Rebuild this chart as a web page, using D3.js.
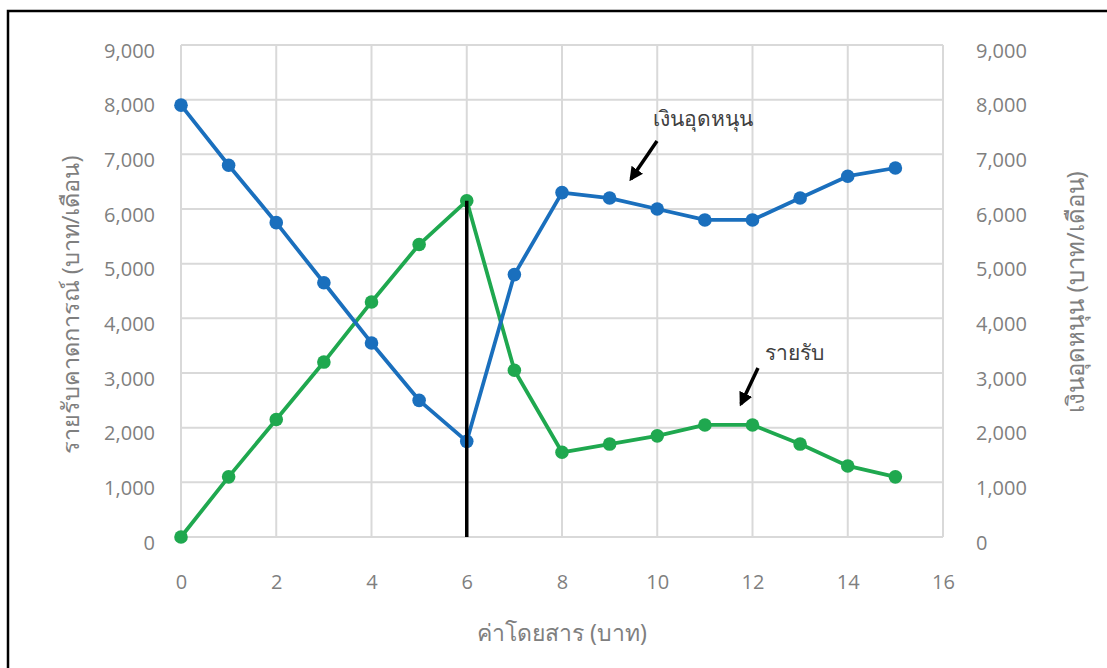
<!DOCTYPE html>
<html><head><meta charset="utf-8">
<script src="https://cdn.jsdelivr.net/npm/d3@7"></script>
<style>body{margin:0;background:#fff;}svg{display:block;font-family:"Noto Sans","Open Sans",sans-serif;}</style>
</head><body>
<svg id="c" width="1107" height="668"></svg>
<script>
const fares = [0,1,2,3,4,5,6,7,8,9,10,11,12,13,14,15];
const subsidy = [7900,6800,5750,4650,3550,2500,1750,4800,6300,6200,6000,5800,5800,6200,6600,6750];
const revenue = [0,1100,2150,3200,4300,5350,6150,3050,1550,1700,1850,2050,2050,1700,1300,1100];
const xTicks = [0,2,4,6,8,10,12,14,16];
const yTicks = [0,1000,2000,3000,4000,5000,6000,7000,8000,9000];
const markFare = 6;
const xTitle = "ค่าโดยสาร (บาท)";
const yLeftTitle = "รายรับคาดการณ์ (บาท/เดือน)";
const yRightTitle = "เงินอุดหนุน (บาท/เดือน)";
const labelSubsidy = "เงินอุดหนุน";
const labelRevenue = "รายรับ";

const svg = d3.select("#c");
svg.append("rect").attr("x",8).attr("y",11).attr("width",1110).attr("height",700)
  .attr("fill","none").attr("stroke","#000").attr("stroke-width",2.5);

const x = d3.scaleLinear().domain([0,16]).range([181,943]);
const y = d3.scaleLinear().domain([0,9000]).range([537,45]);
const fmt = d3.format(",");
const grey = "#7f7f7f";

// grid
svg.append("g").selectAll("line").data(yTicks).join("line")
  .attr("x1",x(0)).attr("x2",x(16)).attr("y1",d=>y(d)).attr("y2",d=>y(d))
  .attr("stroke","#d9d9d9").attr("stroke-width",2);
svg.append("g").selectAll("line").data(xTicks).join("line")
  .attr("x1",d=>x(d)).attr("x2",d=>x(d)).attr("y1",y(0)).attr("y2",y(9000))
  .attr("stroke","#d9d9d9").attr("stroke-width",2);

// axes (text only)
const axL = d3.axisLeft(y).tickValues(yTicks).tickFormat(fmt).tickSize(0).tickPadding(26);
const gL = svg.append("g").attr("transform",`translate(${x(0)},0)`).call(axL);
const axR = d3.axisRight(y).tickValues(yTicks).tickFormat(fmt).tickSize(0).tickPadding(33);
const gR = svg.append("g").attr("transform",`translate(${x(16)},0)`).call(axR);
const axB = d3.axisBottom(x).tickValues(xTicks).tickSize(0).tickPadding(38);
const gB = svg.append("g").attr("transform",`translate(0,${y(0)})`).call(axB);
[gL,gR,gB].forEach(g=>{
  g.select(".domain").remove();
  g.selectAll("text").attr("fill",grey).style("font-size","20px").style("font-family",'"Open Sans","Noto Sans",sans-serif');
});
gL.selectAll("text").attr("dy","0.6em");
gR.selectAll("text").attr("dy","0.6em");

// titles
svg.append("text").attr("x",(x(0)+x(16))/2).attr("y",641).attr("text-anchor","middle")
  .attr("fill",grey).style("font-size","23px").text(xTitle);
svg.append("text").attr("transform",`translate(79,305) rotate(-90)`).attr("text-anchor","middle")
  .attr("fill",grey).style("font-size","23.5px").text(yLeftTitle);
svg.append("text").attr("transform",`translate(1084,292) rotate(-90)`).attr("text-anchor","middle")
  .attr("fill",grey).style("font-size","24px").text(yRightTitle);

const line = d3.line().x((d,i)=>x(fares[i])).y(d=>y(d));
function series(vals,color){
  svg.append("path").datum(vals).attr("d",line).attr("fill","none")
    .attr("stroke",color).attr("stroke-width",3.8).attr("stroke-linejoin","round");
  svg.append("g").selectAll("circle").data(vals).join("circle")
    .attr("cx",(d,i)=>x(fares[i])).attr("cy",d=>y(d)).attr("r",6.8).attr("fill",color);
}
series(revenue,"#1fa84f");
series(subsidy,"#1a6fbd");
// vertical black marker at the peak revenue fare
svg.append("line").attr("x1",x(markFare)).attr("x2",x(markFare))
  .attr("y1",y(0)).attr("y2",y(revenue[fares.indexOf(markFare)]))
  .attr("stroke","#000").attr("stroke-width",3.5);

// annotations
const defs = svg.append("defs");
defs.append("marker").attr("id","ah").attr("viewBox","0 0 10 10").attr("refX",8).attr("refY",5)
  .attr("markerWidth",4).attr("markerHeight",4).attr("orient","auto")
  .append("path").attr("d","M0,0 L10,5 L0,10 z").attr("fill","#000");
svg.append("line").attr("x1",657).attr("y1",141).attr("x2",631).attr("y2",179)
  .attr("stroke","#000").attr("stroke-width",3.5).attr("marker-end","url(#ah)");
svg.append("line").attr("x1",758).attr("y1",368).attr("x2",741).attr("y2",404)
  .attr("stroke","#000").attr("stroke-width",3.5).attr("marker-end","url(#ah)");
svg.append("text").attr("x",653).attr("y",126).attr("fill","#404040").style("font-size","21px").text(labelSubsidy);
svg.append("text").attr("x",765).attr("y",360).attr("fill","#404040").style("font-size","21px").text(labelRevenue);
</script>
</body></html>
